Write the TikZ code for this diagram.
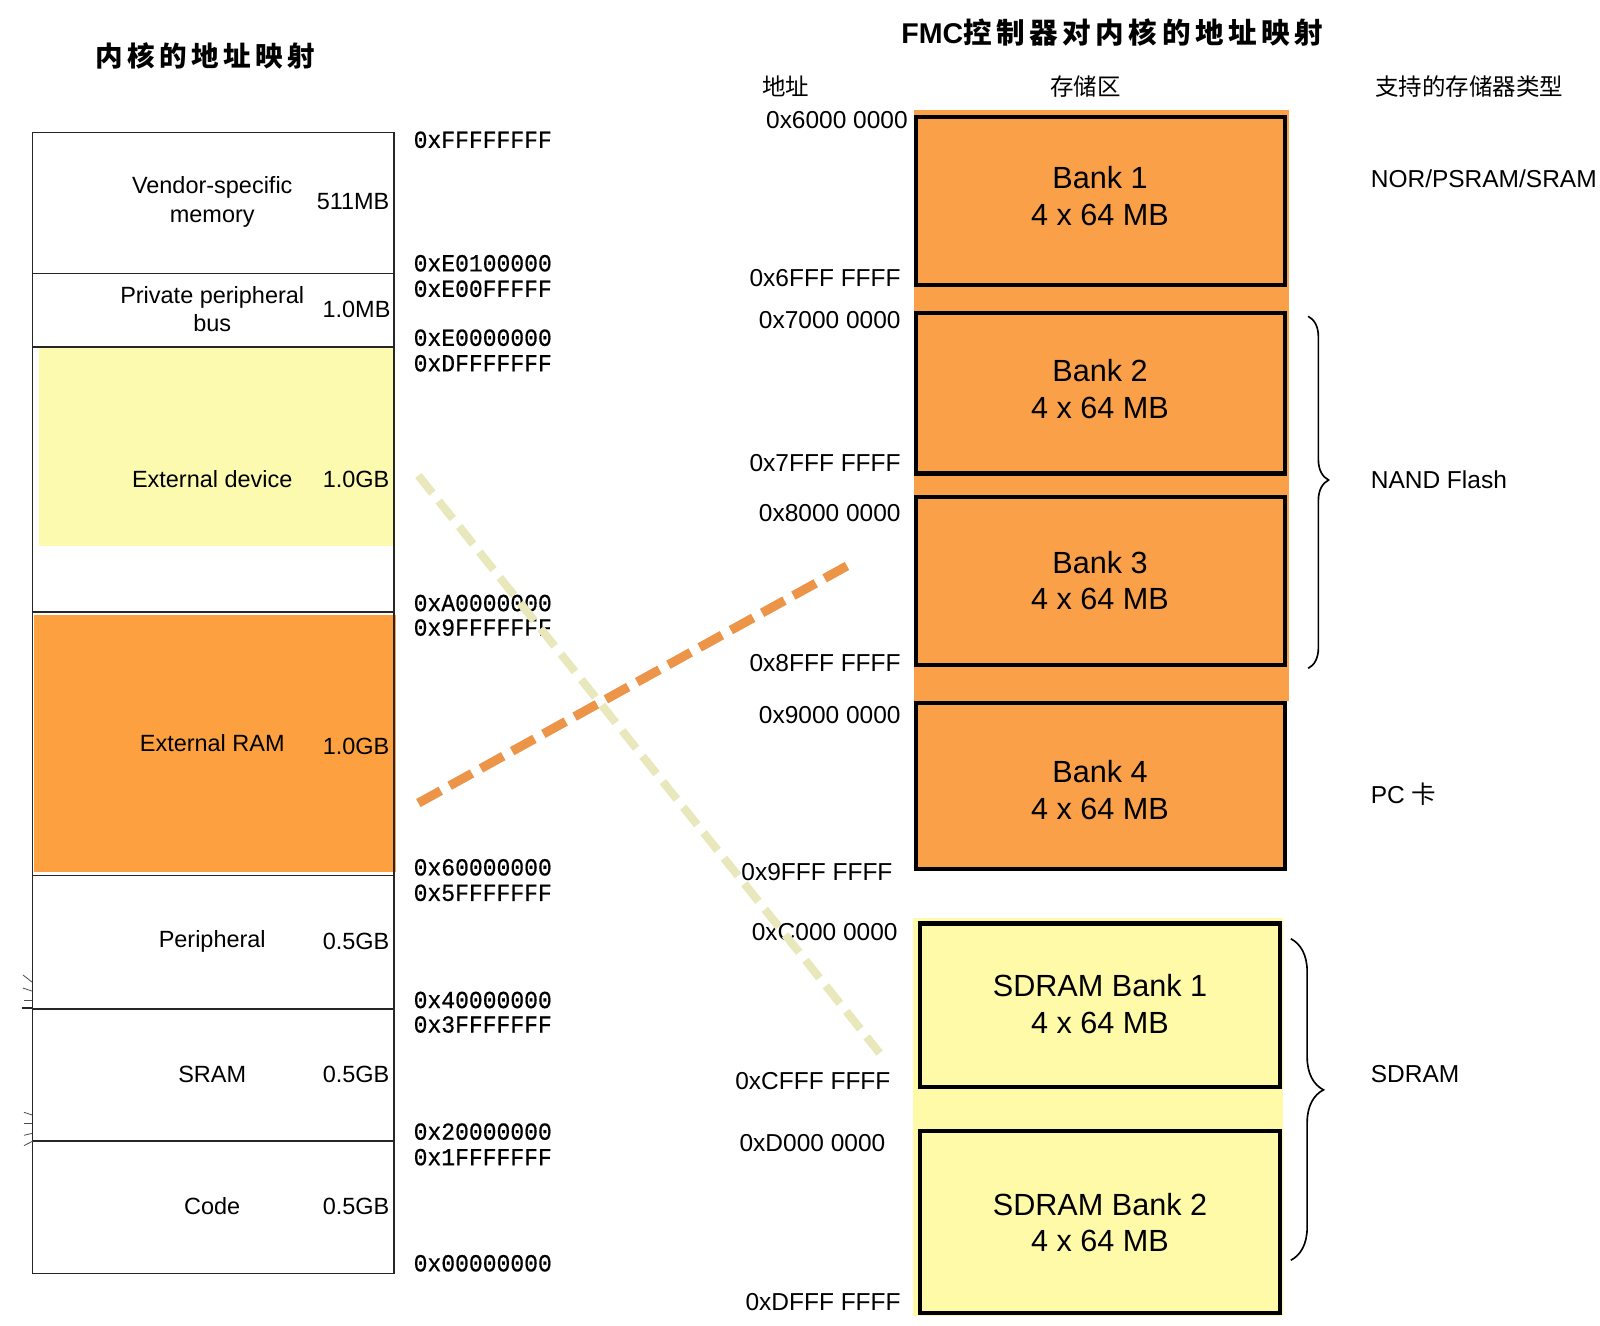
\documentclass[tikz,border=0pt]{standalone}
\usepackage{fontspec}
\setmainfont{Liberation Sans}
\newfontfamily\cjk{Noto Sans CJK SC}
\newfontfamily\cjktitle[LetterSpace=16]{Noto Sans CJK SC}
\newfontfamily\monofont[FakeStretch=0.94,FakeBold=0.6]{Liberation Mono}
\usetikzlibrary{decorations.pathreplacing}
\definecolor{ramorange}{RGB}{252,160,64}
\definecolor{bankorange}{RGB}{250,160,72}
\definecolor{devyellow}{RGB}{252,250,175}
\definecolor{sdyellow}{RGB}{255,250,168}
\definecolor{dashor}{RGB}{236,148,72}
\definecolor{dashye}{RGB}{232,232,188}
\begin{document}
\begin{tikzpicture}[x=0.5pt,y=-0.5pt,
  lbl/.style={font=\fontsize{11.5}{14}\selectfont, align=center, inner sep=0pt},
  sz/.style={font=\fontsize{11.5}{14}\selectfont, anchor=east, inner sep=0pt},
  laddr/.style={font=\monofont\fontsize{12}{14}\selectfont, anchor=west, inner sep=0pt},
  raddr/.style={font=\fontsize{12}{14}\selectfont, anchor=east, inner sep=0pt},
  rtype/.style={font=\fontsize{12}{14}\selectfont, anchor=west, inner sep=0pt},
  hdr/.style={font=\cjk\fontsize{11.5}{14}\selectfont, inner sep=0pt},
  bank/.style={draw=black, line width=2pt, fill=bankorange, minimum width=180.5pt, inner sep=0pt},
  sdbank/.style={bank, fill=sdyellow, minimum width=176pt},
  banktext/.style={font=\fontsize{15}{18}\selectfont, align=center, inner sep=0pt},
  leftline/.style={line width=0.8pt, draw=black!85},
  tick/.style={line width=0.4pt, draw=black!70},
  bracestyle/.style={decorate, line width=0.8pt},
  ordash/.style={draw=dashor, line width=4.5pt, dash pattern=on 12.5pt off 5pt},
  yedash/.style={draw=dashye, line width=4pt, dash pattern=on 11pt off 5pt}]
\useasboundingbox (0,0) rectangle (1568,1299);

% titles
\node[font=\cjktitle\bfseries\fontsize{13.5}{15}\selectfont, inner sep=0pt] (t1) at (201,55) {内核的地址映射};
\node[font=\fontsize{14}{16}\selectfont\bfseries, inner sep=0pt] (t2) at (1090,32) {FMC{\cjktitle\fontsize{14}{16}\selectfont\bfseries 控制器对内核的地址映射}};

% left column fills
\fill[devyellow] (38,341) rectangle (386,535);
\fill[ramorange] (33,603) rectangle (388,855);
% left box
\draw[leftline] (32,130) rectangle (386,1248);
\foreach \yy in {268,340,600,858,989,1118}
  \draw[leftline] (32,\yy) -- (386,\yy);
\draw[leftline] (22,988) -- (32,988);
% small ticks
\draw[tick] (22.5,955.5) -- (31.4,962.4);
\draw[tick] (22.5,968.3) -- (31.4,971.2);
\draw[tick] (23.5,980) -- (31.4,980);
\draw[tick] (23.5,1090) -- (31.4,1092.7);
\draw[tick] (23.5,1100.7) -- (31.4,1100.7);
\draw[tick] (23.5,1112.6) -- (31.4,1110.7);
\draw[tick] (23.5,1122.7) -- (32.3,1118.2);

% left labels
\node[lbl] (l1) at (208,198) {Vendor-specific\\memory};
\node[sz] (s1) at (382,198) {511MB};
\node[lbl] (l2) at (208,303) {Private peripheral\\bus};
\node[sz] (s2) at (383,303) {1.0MB};
\node[lbl] (l3) at (208,470) {External device};
\node[sz] (s3) at (382,470) {1.0GB};
\node[lbl] (l4) at (208,728) {External RAM};
\node[sz] (s4) at (382,731) {1.0GB};
\node[lbl] (l5) at (208,923) {Peripheral};
\node[sz] (s5) at (382,923) {0.5GB};
\node[lbl] (l6) at (208,1053) {SRAM};
\node[sz] (s6) at (382,1053) {0.5GB};
\node[lbl] (l7) at (208,1182) {Code};
\node[sz] (s7) at (382,1182) {0.5GB};

% left addresses
\node[laddr] (a1) at (405,137) {0xFFFFFFFF};
\node[laddr] (a2) at (405,258) {0xE0100000};
\node[laddr] (a3) at (405,283) {0xE00FFFFF};
\node[laddr] (a4) at (405,331) {0xE0000000};
\node[laddr] (a5) at (405,356) {0xDFFFFFFF};
\node[laddr] (a6) at (405,591) {0xA0000000};
\node[laddr] (a7) at (405,615) {0x9FFFFFFF};
\node[laddr] (a8) at (405,850) {0x60000000};
\node[laddr] (a9) at (405,875) {0x5FFFFFFF};
\node[laddr] (a10) at (405,980) {0x40000000};
\node[laddr] (a11) at (405,1004) {0x3FFFFFFF};
\node[laddr] (a12) at (405,1109) {0x20000000};
\node[laddr] (a13) at (405,1134) {0x1FFFFFFF};
\node[laddr] (a14) at (405,1238) {0x00000000};

% headers
\node[hdr] (h1) at (770,85) {地址};
\node[hdr] (h2) at (1064,85) {存储区};
\node[hdr] (h3) at (1440,85) {支持的存储器类型};

% right backgrounds
\fill[bankorange] (896,108) rectangle (1263,687);
\fill[sdyellow] (895,900) rectangle (1257,1290);

% banks
\node[bank, minimum height=82pt] (b1) at (1078.5,197) {};
\node[bank, minimum height=78.5pt] (b2) at (1078.5,385.5) {};
\node[bank, minimum height=82.5pt] (b3) at (1078.5,569.5) {};
\node[bank, minimum height=81.5pt] (b4) at (1078.5,770.5) {};
\node[sdbank, minimum height=80pt] (c1) at (1078,985) {};
\node[sdbank, minimum height=89.5pt] (c2) at (1078,1197.5) {};
\node[banktext] (bt1) at (1078,192) {Bank 1\\4 x 64 MB};
\node[banktext] (bt2) at (1078,381) {Bank 2\\4 x 64 MB};
\node[banktext] (bt3) at (1078,569) {Bank 3\\4 x 64 MB};
\node[banktext] (bt4) at (1078,774) {Bank 4\\4 x 64 MB};
\node[banktext] (ct1) at (1078,984) {SDRAM Bank 1\\4 x 64 MB};
\node[banktext] (ct2) at (1078,1198) {SDRAM Bank 2\\4 x 64 MB};

% right addresses
\node[raddr] (r1) at (890,118) {0x6000 0000};
\node[raddr] (r2) at (883,273) {0x6FFF FFFF};
\node[raddr] (r3) at (883,314) {0x7000 0000};
\node[raddr] (r4) at (883,454) {0x7FFF FFFF};
\node[raddr] (r5) at (883,503) {0x8000 0000};
\node[raddr] (r6) at (883,650) {0x8FFF FFFF};
\node[raddr] (r7) at (883,701) {0x9000 0000};
\node[raddr] (r8) at (875,855) {0x9FFF FFFF};
\node[raddr] (r9) at (880,913) {0xC000 0000};
\node[raddr] (r10) at (873,1059) {0xCFFF FFFF};
\node[raddr] (r11) at (868,1120) {0xD000 0000};
\node[raddr] (r12) at (883,1276) {0xDFFF FFFF};

% memory types
\node[rtype] (m1) at (1343,175) {NOR/PSRAM/SRAM};
\node[rtype] (m2) at (1343,470) {NAND Flash};
\node[rtype] (m3) at (1343,778) {PC {\cjk 卡}};
\node[rtype] (m4) at (1343,1053) {SDRAM};

% braces
\coordinate (nb1) at (1282,310);
\coordinate (nb2) at (1282,655);
\draw[bracestyle, decoration={brace, amplitude=10pt, aspect=0.465}] (nb1) -- (nb2);
\coordinate (sb1) at (1265,920);
\coordinate (sb2) at (1265,1235);
\draw[bracestyle, decoration={brace, amplitude=16pt, aspect=0.47}] (sb1) -- (sb2);

% dashed mapping lines
\coordinate (yA) at (410,466);
\coordinate (yB) at (862,1032);
\draw[yedash] (yA) -- (yB);
\coordinate (oA) at (410,787);
\coordinate (oB) at (833,553);
\draw[ordash] (oA) -- (oB);
\end{tikzpicture}
\end{document}
